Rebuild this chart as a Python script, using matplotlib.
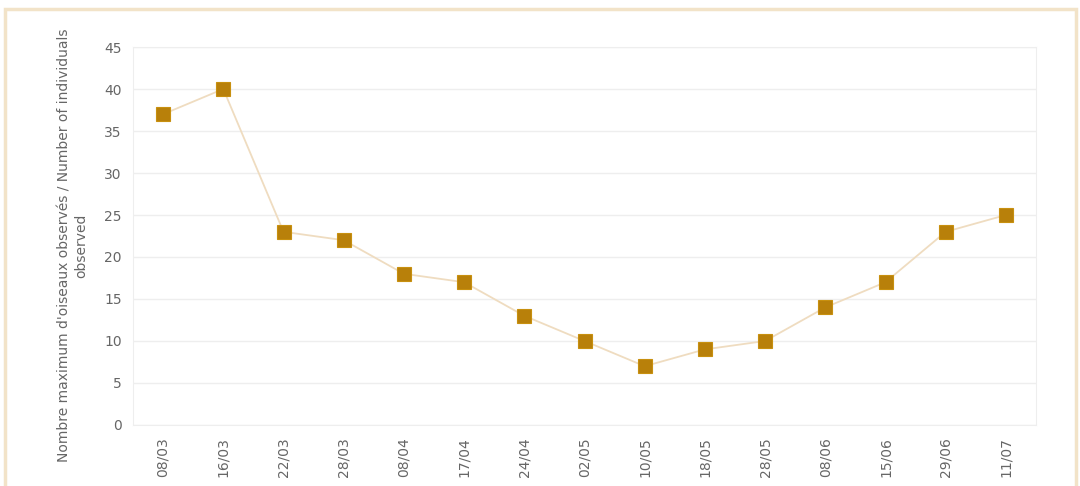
import matplotlib.pyplot as plt
from matplotlib.patches import Rectangle

dates = ["08/03", "16/03", "22/03", "28/03", "08/04", "17/04", "24/04", "02/05",
         "10/05", "18/05", "28/05", "08/06", "15/06", "29/06", "11/07"]
counts = [37, 40, 23, 22, 18, 17, 13, 10, 7, 9, 10, 14, 17, 23, 25]
y_ticks = [0, 5, 10, 15, 20, 25, 30, 35, 40, 45]

fig = plt.figure(figsize=(10.8, 4.86), dpi=100)
ax = fig.add_axes([133 / 1080, 1 - 425 / 486, 903 / 1080, 378 / 486])

x = list(range(len(dates)))
ax.plot(x, counts, color="#efdcc0", lw=1.3, zorder=2)
ax.plot(x, counts, ls="none", marker="s", ms=10, color="#b8800a",
        mec="#c8900f", mew=0.8, zorder=3)

ax.set_xlim(-0.5, len(dates) - 0.5)
ax.set_ylim(0, 45)
ax.set_yticks(y_ticks)
ax.set_xticks(x)
ax.set_xticklabels(dates, rotation=90)
ax.tick_params(axis="both", length=0, labelsize=10, labelcolor="#666666", pad=8)
ax.tick_params(axis="x", pad=9)
ax.grid(axis="y", color="#eeeeee", lw=1)
for s in ["top", "right", "left", "bottom"]:
    ax.spines[s].set_color("#eeeeee")
ax.set_axisbelow(True)

ax.set_ylabel("Nombre maximum d'oiseaux observés / Number of individuals\nobserved",
              fontsize=10, color="#666666")
ax.yaxis.set_label_coords(-0.050, 0.475)

# beige frame around the figure
fig.patches.append(Rectangle((5 / 1080, -0.05), 1071 / 1080, 1.05 - 9 / 486,
                             transform=fig.transFigure, fill=False,
                             ec="#f2e3c8", lw=2.5))

fig.savefig("out.png", dpi=100, facecolor="white")
